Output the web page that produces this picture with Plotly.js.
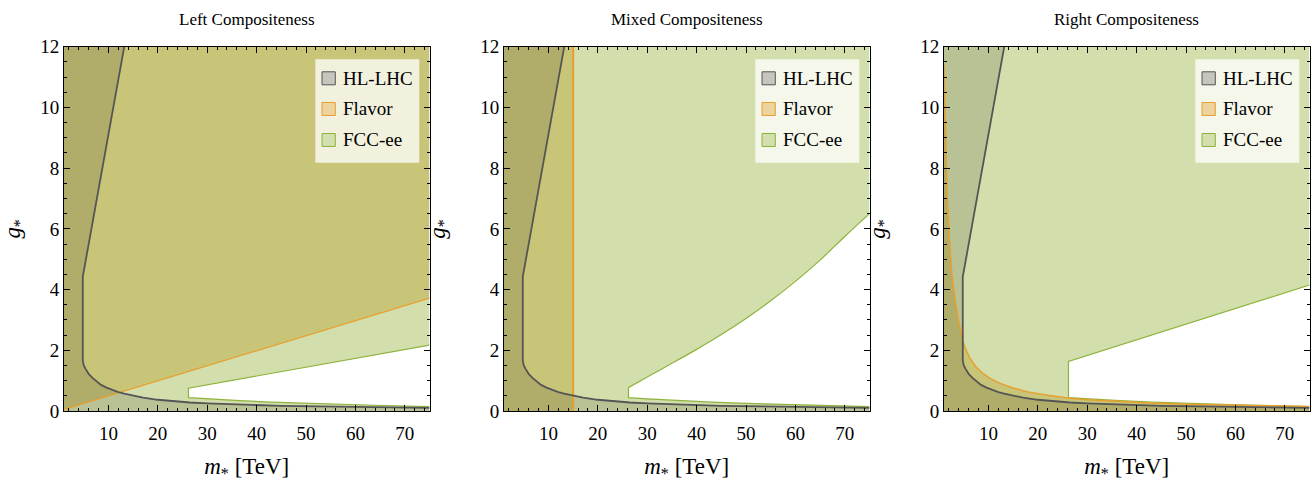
<!DOCTYPE html>
<html><head><meta charset="utf-8">
<script src="https://cdn.plot.ly/plotly-3.0.1.min.js"></script>
<style>html,body{margin:0;padding:0;background:#fff}#chart{width:1312px;height:484px}</style>
</head><body><div id="chart"></div>
<script>
const panelTitles = ['Left Compositeness', 'Mixed Compositeness', 'Right Compositeness'];
const legendLabels = ['HL-LHC', 'Flavor', 'FCC-ee'];
const xTitle = '<i>m</i><sub>*</sub> [TeV]';
const yTitle = '<i>g</i><sub>*</sub>';
const mRange = [1, 75];
const gRange = [0, 12];

// HL-LHC exclusion boundary (same in every panel)
const hlX = [13.2, 4.8, 4.8, 5.0, 5.4, 6.0, 6.7, 7.5, 8.5, 9.6, 10.8, 12, 13.2, 15, 17, 20, 23, 26.5, 30, 34, 39, 45, 50, 55, 60, 65, 70, 75];
const hlY = [12, 4.42, 1.66, 1.50, 1.38, 1.22, 1.10, 0.98, 0.86, 0.77, 0.69, 0.62, 0.57, 0.50, 0.44, 0.37, 0.32, 0.28, 0.25, 0.22, 0.20, 0.17, 0.155, 0.14, 0.128, 0.118, 0.108, 0.10];

// FCC-ee allowed wedge: lower edge (same in every panel)
const fccLowX = [26.2, 30, 36.6, 43, 50, 57, 63.6, 70, 75];
const fccLowY = [0.44, 0.40, 0.34, 0.29, 0.25, 0.22, 0.19, 0.165, 0.145];
// FCC-ee allowed wedge: upper edges per panel
const fccUpLeftX = [26.2, 75];
const fccUpLeftY = [0.75, 2.17];
const fccUpMixedX = [26.2, 30, 35, 40, 45, 50, 55, 60, 65, 70, 75];
const fccUpMixedY = [0.77, 1.12, 1.57, 2.03, 2.52, 3.05, 3.63, 4.27, 4.97, 5.75, 6.50];
const fccUpRightX = [26.2, 75];
const fccUpRightY = [1.63, 4.15];

// Flavor boundaries per panel
const flavorLeftX = [1, 75];
const flavorLeftY = [0.05, 3.72];
const flavorMixedX = [15, 15];
const flavorMixedY = [0, 12];
const flavorRightX = [1.0, 1.15, 1.3, 1.5, 1.7, 2.0, 2.25, 2.6, 3.0, 3.3, 3.8, 4.3, 4.8, 5.5, 6.3, 7.5, 9, 10.5, 12.5, 15, 18, 22, 26, 30, 36, 43, 50, 58, 66, 75];
const flavorRightY = [11.4, 10.0, 8.9, 7.8, 6.9, 5.9, 5.25, 4.5, 3.95, 3.6, 3.1, 2.7, 2.3, 2.0, 1.72, 1.45, 1.22, 1.06, 0.90, 0.76, 0.63, 0.52, 0.43, 0.37, 0.31, 0.26, 0.225, 0.195, 0.17, 0.15];

const C = {
  fccFill: 'rgba(143,176,50,0.40)', fccLine: '#8DB33A',
  flFill: 'rgba(180,140,0,0.30)', flLine: '#E89F2E',
  hlFill: 'rgba(80,80,50,0.20)', hlLine: '#555555',
  swHL: '#C6C6BF', swFl: '#EDD39E', swFcc: '#D3DFAE'
};
const FONT = '"Liberation Serif", "Times New Roman", serif';

const rev = a => a.slice().reverse();
const [x0, x1] = mRange, [y0, y1] = gRange;

const panels = [
  {up: [fccUpLeftX, fccUpLeftY], fl: 'left'},
  {up: [fccUpMixedX, fccUpMixedY], fl: 'mixed'},
  {up: [fccUpRightX, fccUpRightY], fl: 'right'}
];
const doms = [[64/1312, 429.5/1312], [504/1312, 869.5/1312], [944/1312, 1309.5/1312]];
const yDom = [1 - 411/484, 1 - 46.7/484];

const traces = [];
const layout = {
  width: 1312, height: 484, margin: {l: 0, r: 0, t: 0, b: 0},
  paper_bgcolor: '#fff', plot_bgcolor: '#fff', showlegend: false,
  shapes: [], annotations: []
};

panels.forEach((p, i) => {
  const s = i === 0 ? '' : String(i + 1);
  const xa = 'x' + s, ya = 'y' + s;
  const base = {xaxis: xa, yaxis: ya, mode: 'lines', hoverinfo: 'skip', showlegend: false};
  const [ux, uy] = p.up;
  const shape = ux.length > 2 ? 'spline' : 'linear';

  // FCC-ee excluded region (everything outside the wedge)
  traces.push(Object.assign({}, base, {
    x: [x0, x1, ...rev(fccLowX), ...ux, x1, x0],
    y: [y0, y0, ...rev(fccLowY), ...uy, y1, y1],
    fill: 'toself', fillcolor: C.fccFill, line: {width: 0, shape: 'linear'}
  }));
  // Flavor excluded region
  let fx, fy, lx, ly, lw = 1.2;
  if (p.fl === 'left') {
    fx = [...flavorLeftX, x1, x0]; fy = [...flavorLeftY, y1, y1];
    lx = flavorLeftX; ly = flavorLeftY;
  } else if (p.fl === 'mixed') {
    fx = [x0, ...flavorMixedX, x0]; fy = [y0, ...flavorMixedY, y1];
    lx = flavorMixedX; ly = flavorMixedY; lw = 2;
  } else {
    fx = [x0, ...flavorRightX, x1]; fy = [y0, ...flavorRightY, y0];
    lx = flavorRightX; ly = flavorRightY; lw = 1.5;
  }
  traces.push(Object.assign({}, base, {x: fx, y: fy, fill: 'toself', fillcolor: C.flFill, line: {width: 0}}));
  // HL-LHC excluded region
  traces.push(Object.assign({}, base, {
    x: [x0, x0, ...hlX, x1], y: [y0, y1, ...hlY, y0],
    fill: 'toself', fillcolor: C.hlFill, line: {width: 0}
  }));
  // boundaries
  if (shape === 'spline') {
    traces.push(Object.assign({}, base, {x: rev(ux), y: rev(uy), line: {color: C.fccLine, width: 1.2, shape: 'spline', smoothing: 0.8}}));
    traces.push(Object.assign({}, base, {x: [ux[0], ...fccLowX], y: [uy[0], ...fccLowY], line: {color: C.fccLine, width: 1.2}}));
  } else {
    traces.push(Object.assign({}, base, {x: [...rev(ux), ...fccLowX], y: [...rev(uy), ...fccLowY], line: {color: C.fccLine, width: 1.2}}));
  }
  traces.push(Object.assign({}, base, {x: lx, y: ly, line: {color: C.flLine, width: lw}}));
  traces.push(Object.assign({}, base, {x: hlX, y: hlY, line: {color: C.hlLine, width: 1.8}}));

  const common = {
    showline: true, linecolor: '#000', linewidth: 1, mirror: 'ticks',
    ticks: 'inside', ticklen: 6, tickwidth: 1, tickcolor: '#000',
    showgrid: false, zeroline: false, fixedrange: true,
    tickfont: {family: FONT, size: 19, color: '#000'}
  };
  layout['xaxis' + s] = Object.assign({}, common, {
    domain: doms[i], range: mRange, anchor: ya, tickmode: 'linear', tick0: 0, dtick: 10,
    minor: {tickmode: 'linear', tick0: 0, dtick: 2, ticks: 'inside', ticklen: 3, tickcolor: '#000'},
    ticklabelstandoff: 5,
    title: {text: xTitle, font: {family: FONT, size: 23, color: '#000'}, standoff: 15}
  });
  layout['yaxis' + s] = Object.assign({}, common, {
    domain: yDom, range: gRange, anchor: xa, tickmode: 'linear', tick0: 0, dtick: 2,
    minor: {tickmode: 'linear', tick0: 0, dtick: 0.5, ticks: 'inside', ticklen: 3, tickcolor: '#000'},
    title: {text: yTitle, font: {family: FONT, size: 23, color: '#000'}, standoff: 28}
  });

  layout.annotations.push({
    xref: xa + ' domain', yref: 'paper', x: 0.5, y: 1 - 20 / 484, yanchor: 'middle', xanchor: 'center',
    showarrow: false, text: panelTitles[i], font: {family: FONT, size: 17, color: '#000'}
  });

  // legend box
  const xr = xa + ' domain', yr = ya + ' domain';
  layout.shapes.push({type: 'rect', xref: xr, yref: yr, x0: 0.6876, x1: 0.9721, y0: 0.6816, y1: 0.9654,
    fillcolor: 'rgba(255,255,255,0.75)', line: {width: 0}});
  const sw = [[C.swHL, C.hlLine, 0.8954, 0.9311, 0.9133], [C.swFl, C.flLine, 0.8112, 0.8469, 0.8290], [C.swFcc, C.fccLine, 0.7261, 0.7617, 0.7439]];
  sw.forEach((w, k) => {
    layout.shapes.push({type: 'rect', xref: xr, yref: yr, x0: 0.7059, x1: 0.7423, y0: w[2], y1: w[3],
      fillcolor: w[0], line: {color: w[1], width: 1}});
    layout.annotations.push({xref: xr, yref: yr, x: 0.7592, y: w[4], xanchor: 'left', yanchor: 'middle',
      showarrow: false, text: legendLabels[k], font: {family: FONT, size: 19, color: '#000'}});
  });
});

Plotly.newPlot('chart', traces, layout, {staticPlot: true, displayModeBar: false});
</script>
</body></html>
